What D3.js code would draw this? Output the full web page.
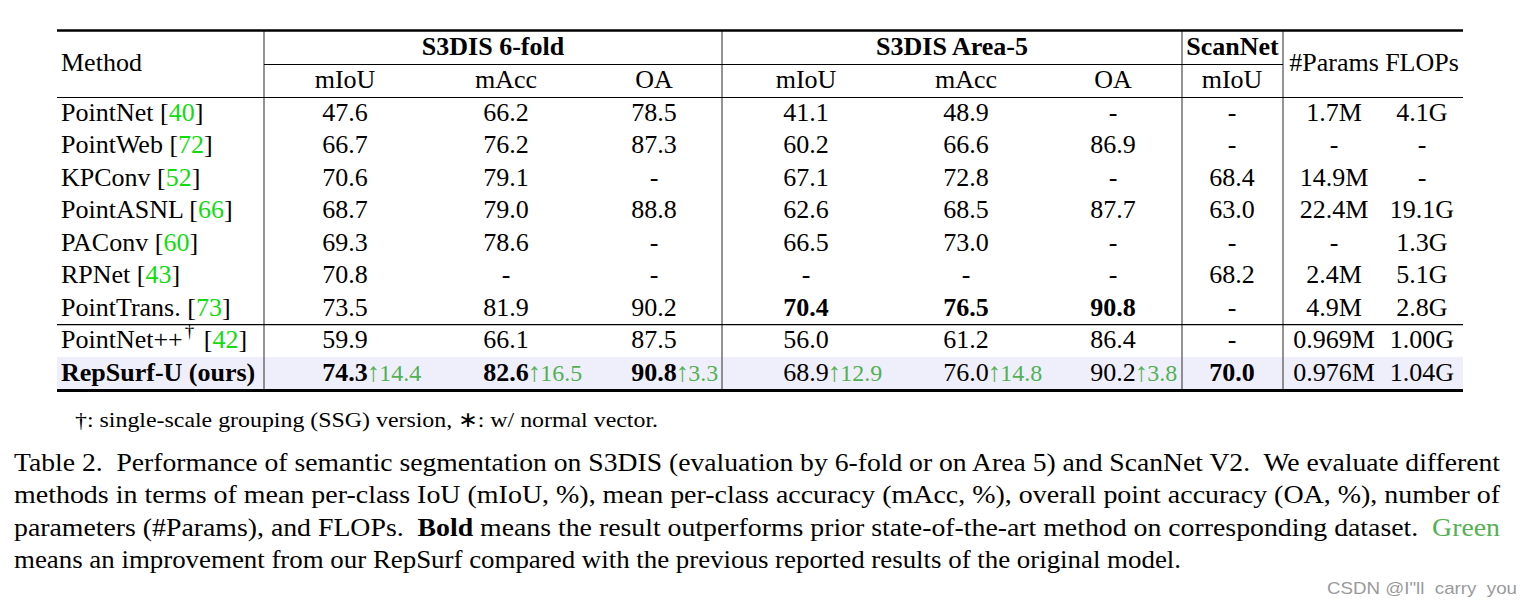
<!DOCTYPE html>
<html><head><meta charset="utf-8">
<script src="https://cdn.jsdelivr.net/npm/d3@7"></script>
<style>
body{margin:0;background:#fff;}
svg text{white-space:pre;}
</style>
</head><body><svg id="c" width="1532" height="607"></svg>
<script>
// ---------- data ----------
const methods = ["PointNet", "PointWeb", "KPConv", "PointASNL", "PAConv", "RPNet", "PointTrans.", "PointNet++", "RepSurf-U (ours)"];
const refs = ["40", "72", "52", "66", "60", "43", "73", "42", ""];
const daggerRows = ["PointNet++"];
const groupHeaders = ["S3DIS 6-fold", "S3DIS Area-5", "ScanNet"];
const subHeaders = ["mIoU", "mAcc", "OA", "mIoU", "mAcc", "OA", "mIoU"];
const extraHeaders = ["#Params", "FLOPs"];
const foldMiou = [47.6, 66.7, 70.6, 68.7, 69.3, 70.8, 73.5, 59.9, 74.3];
const foldMacc = [66.2, 76.2, 79.1, 79.0, 78.6, null, 81.9, 66.1, 82.6];
const foldOa = [78.5, 87.3, null, 88.8, null, null, 90.2, 87.5, 90.8];
const area5Miou = [41.1, 60.2, 67.1, 62.6, 66.5, null, 70.4, 56.0, 68.9];
const area5Macc = [48.9, 66.6, 72.8, 68.5, 73.0, null, 76.5, 61.2, 76.0];
const area5Oa = [null, 86.9, null, 87.7, null, null, 90.8, 86.4, 90.2];
const scannetMiou = [null, null, 68.4, 63.0, null, 68.2, null, null, 70.0];
const params = ["1.7M", "-", "14.9M", "22.4M", "-", "2.4M", "4.9M", "0.969M", "0.976M"];
const flops = ["4.1G", "-", "-", "19.1G", "1.3G", "5.1G", "2.8G", "1.00G", "1.04G"];
// improvements of RepSurf-U (last row) per metric column
const gains = [14.4, 16.5, 3.3, 12.9, 14.8, 3.8, null];
// bold cells: [row, metric column]
const boldCells = [[6, 3], [6, 4], [6, 5], [8, 0], [8, 1], [8, 2], [8, 6]];
const footnote = "\u2020: single-scale grouping (SSG) version, \u2217: w/ normal vector.";
const captionLines = [
  [{t: "Table 2.  Performance of semantic segmentation on S3DIS (evaluation by 6-fold or on Area 5) and ScanNet V2.  We evaluate different"}],
  [{t: "methods in terms of mean per-class IoU (mIoU, %), mean per-class accuracy (mAcc, %), overall point accuracy (OA, %), number of"}],
  [{t: "parameters (#Params), and FLOPs.  "}, {t: "Bold", b: true}, {t: " means the result outperforms prior state-of-the-art method on corresponding dataset.  "}, {t: "Green", g: true}],
  [{t: "means an improvement from our RepSurf compared with the previous reported results of the original model."}]
];
const watermark = "CSDN @I\"ll  carry  you";

// ---------- layout ----------
const svg = d3.select("#c");
const serif = "'Liberation Serif', 'Times New Roman', serif";
const L = 57, R = 1463;
const vLines = [264, 722, 1182, 1283];
const metricCenters = [345, 506, 654, 806, 966, 1113, 1232];
const extraCenters = [1334, 1422];
const groupSpans = [[264, 722], [722, 1182], [1182, 1283]];
const fs = 26;
const citeGreen = "#10dc10";
const gainGreen = "#52b152";

const y = d3.scaleBand().domain(d3.range(methods.length)).range([97.5, 389.5]).paddingInner(0);
const xM = d3.scaleOrdinal().domain(d3.range(subHeaders.length)).range(metricCenters);
const xE = d3.scaleOrdinal().domain(d3.range(extraHeaders.length)).range(extraCenters);

// highlight last row
svg.append("rect").attr("x", L).attr("y", y(methods.length - 1)).attr("width", R - L)
  .attr("height", y.bandwidth()).attr("fill", "#efeffb");

// vertical lines
svg.selectAll("line.v").data(vLines).join("line").attr("class", "v")
  .attr("x1", d => d).attr("x2", d => d).attr("y1", 31).attr("y2", 390)
  .attr("stroke", "#5a5a5a").attr("stroke-width", 1.3);

// horizontal rules
const hr = [
  {x1: L, x2: R, y: 30.5, w: 2.6},
  {x1: vLines[0], x2: vLines[3], y: 64.5, w: 1.1},
  {x1: L, x2: R, y: 97.5, w: 1.1},
  {x1: L, x2: R, y: y(7), w: 1.1},
  {x1: L, x2: R, y: 390.5, w: 2.8}
];
svg.selectAll("line.h").data(hr).join("line").attr("class", "h")
  .attr("x1", d => d.x1).attr("x2", d => d.x2).attr("y1", d => d.y).attr("y2", d => d.y)
  .attr("stroke", "#000").attr("stroke-width", d => d.w);

const T = svg.append("g").attr("font-family", serif).attr("font-size", fs).attr("fill", "#000");

// headers
T.append("text").attr("x", 61).attr("y", 71).text("Method");
T.selectAll("text.gh").data(groupHeaders).join("text").attr("class", "gh")
  .attr("x", (d, i) => (groupSpans[i][0] + groupSpans[i][1]) / 2).attr("y", 55)
  .attr("text-anchor", "middle").attr("font-weight", "bold").text(d => d);
T.selectAll("text.sh").data(subHeaders).join("text").attr("class", "sh")
  .attr("x", (d, i) => xM(i)).attr("y", 87.5).attr("text-anchor", "middle").text(d => d);
T.selectAll("text.eh").data(extraHeaders).join("text").attr("class", "eh")
  .attr("x", (d, i) => xE(i)).attr("y", 71).attr("text-anchor", "middle").text(d => d);

// method column
methods.forEach((m, i) => {
  const t = T.append("text").attr("x", 61).attr("y", y(i) + 23.5);
  const last = i === methods.length - 1;
  t.append("tspan").attr("font-weight", last ? "bold" : null).text(m);
  if (daggerRows.includes(m)) {
    t.append("tspan").attr("dy", -11).attr("dx", 2).attr("font-size", 19).text("\u2020");
    t.append("tspan").attr("dy", 11).attr("dx", 3).text(" ");
  } else if (refs[i]) {
    t.append("tspan").text(" ");
  }
  if (refs[i]) {
    t.append("tspan").text("[");
    t.append("tspan").attr("fill", citeGreen).text(refs[i]);
    t.append("tspan").text("]");
  }
});

// metric columns
const metricCols = [foldMiou, foldMacc, foldOa, area5Miou, area5Macc, area5Oa, scannetMiou];
metricCols.forEach((col, c) => {
  col.forEach((v, r) => {
    const isBold = boldCells.some(b => b[0] === r && b[1] === c);
    const txt = T.append("text").attr("x", xM(c)).attr("y", y(r) + 23.5)
      .attr("text-anchor", "middle").attr("font-weight", isBold ? "bold" : null)
      .text(v == null ? "-" : d3.format(".1f")(v));
    if (r === methods.length - 1 && gains[c] != null) {
      const w = txt.node().getComputedTextLength();
      const g = T.append("text").attr("x", xM(c) + w / 2).attr("y", y(r) + 23.5)
        .attr("fill", gainGreen).attr("font-size", 24);
      g.append("tspan").attr("font-size", 27).attr("dx", -1).text("\u2191");
      g.append("tspan").attr("dx", -1).text(d3.format(".1f")(gains[c]));
    }
  });
});

// extra columns
[params, flops].forEach((col, c) => {
  T.selectAll(null).data(col).join("text")
    .attr("x", xE(c)).attr("y", (d, r) => y(r) + 23.5)
    .attr("text-anchor", "middle").text(d => d);
});

// footnote
svg.append("text").attr("x", 75).attr("y", 427).attr("font-family", serif)
  .attr("font-size", 22).attr("textLength", 583).attr("lengthAdjust", "spacingAndGlyphs")
  .text(footnote);

// caption
captionLines.forEach((parts, i) => {
  const t = svg.append("text").attr("x", 14).attr("y", 470.5 + i * 32.6)
    .attr("font-family", serif).attr("font-size", 25).attr("fill", "#000")
    .attr("textLength", i < 3 ? 1486 : 1167).attr("lengthAdjust", "spacingAndGlyphs");
  parts.forEach(p => {
    t.append("tspan").attr("font-weight", p.b ? "bold" : null)
      .attr("fill", p.g ? gainGreen : null).text(p.t);
  });
});

// watermark
svg.append("text").attr("x", 1327).attr("y", 594).attr("font-family", "'Liberation Sans', Arial, sans-serif")
  .attr("font-size", 17).attr("fill", "#9a9a9a").attr("textLength", 190)
  .attr("lengthAdjust", "spacingAndGlyphs").text(watermark);
</script>
</body></html>
